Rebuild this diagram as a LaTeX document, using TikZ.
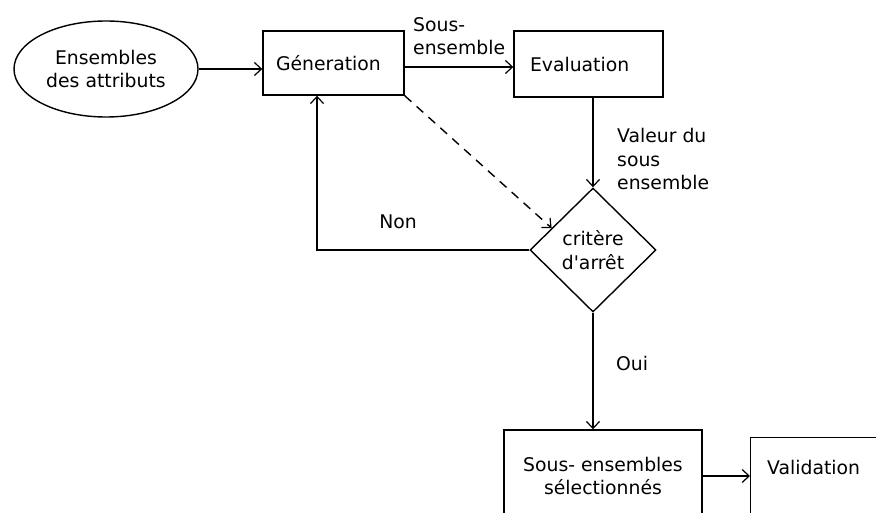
\documentclass[tikz,border=0pt]{standalone}
\usepackage{fontspec}
\setmainfont{DejaVu Sans}[Ligatures=TeXOff]
\usetikzlibrary{shapes.geometric,arrows.meta,calc}
\begin{document}
\begin{tikzpicture}[x=1pt,y=-1pt,
  every node/.style={font=\fontsize{18.8}{23.5}\selectfont},
  ln/.style={line width=1.4pt},
  arr/.style={ln,-{Straight Barb[length=7pt,width=13pt,line width=1.2pt]}},
  boxn/.style={draw,ln,rectangle,align=left,inner ysep=0pt},
  lbl/.style={inner sep=0pt,align=left}]
\useasboundingbox (0,0) rectangle (876,513);
\clip (0,0) rectangle (876,513);
\fill[white] (0,0) rectangle (876,513);
% nodes
\node[draw,ln,ellipse,minimum width=184,minimum height=96,inner sep=0pt,align=center] (ell) at (106,69) {Ensembles\\des attributs};
\node[boxn,minimum width=141,minimum height=64,inner xsep=13pt,text width=115pt] (gen) at (333.5,63) {Géneration};
\node[boxn,minimum width=149,minimum height=66,inner xsep=16pt,text width=117pt] (eval) at (588.5,64) {Evaluation};
\node[draw,ln,diamond,minimum width=126,minimum height=124,inner sep=0pt,align=center] (crit) at (593,250) {critère\\d'arrêt};
\node[draw,ln,rectangle,minimum width=198,minimum height=92,inner sep=0pt,align=center] (sel) at (603,476) {Sous- ensembles\\sélectionnés};
\node[draw,ln,rectangle,minimum width=160,minimum height=90,anchor=north west,inner sep=0pt] (val) at (750,437) {};
\node[lbl,anchor=west] (valt) at (767,467) {Validation};
% labels
\node[lbl,anchor=west] (lsous) at (413,36) {Sous-\\ensemble};
\node[lbl,anchor=west] (lval) at (617,159) {Valeur du\\sous\\ensemble};
\node[lbl] (lnon) at (398,222) {Non};
\node[lbl] (loui) at (632,363) {Oui};
% connectors
\draw[arr] (ell.east) -- (ell.east -| gen.west);
\draw[arr] ([yshift=-4pt]gen.east) -- ([yshift=-4pt]gen.east -| eval.west);
\draw[arr] (crit.north |- eval.south) -- (crit.north);
\coordinate (nonc) at (317,250);
\draw[arr] (crit.west) -- (nonc) -- (nonc |- gen.south);
\coordinate (dtip) at ($(crit.north)!0.65!(crit.west)$);
\draw[arr,dash pattern=on 9pt off 7pt] (gen.south east) -- (dtip);
\draw[arr] (crit.south) -- (crit.south |- sel.north);
\draw[arr] (sel.east) -- (sel.east -| val.west);
\end{tikzpicture}
\end{document}
